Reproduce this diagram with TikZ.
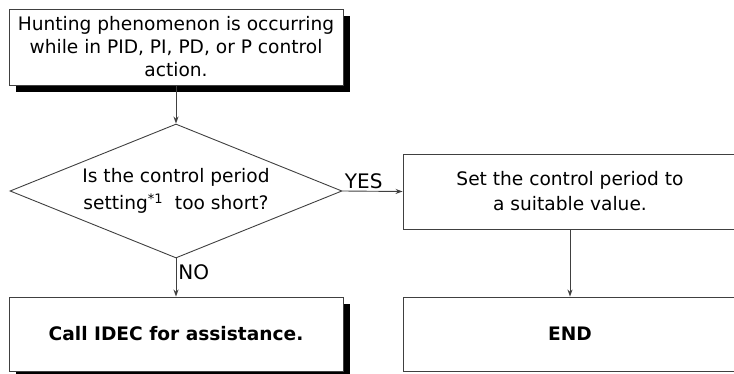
\documentclass[tikz,border=0pt]{standalone}
\usepackage{fontspec}
\setmainfont{DejaVu Sans}
\usetikzlibrary{shapes.geometric, arrows.meta, shadows}
\tikzset{box/.style={draw=black!75, line width=0.9pt, fill=white, minimum width=334pt,
        minimum height=75pt, inner sep=0pt, align=center,
        font=\fontsize{18.6}{23}\selectfont},
    shadowed box/.style={box, drop shadow={shadow xshift=7pt, shadow yshift=-7pt,
        fill=black, opacity=1}},
    bold text/.style={font=\fontsize{18.6}{23}\selectfont\bfseries},
    decision/.style={diamond, draw=black!75, line width=0.9pt, aspect=2.5,
        minimum width=332pt, minimum height=134pt, inner sep=0pt, align=center,
        font=\fontsize{18.6}{26.5}\selectfont},
    flow/.style={draw=black!75, line width=0.9pt, -{Stealth[length=7pt,width=5pt]}},
    answer/.style={font=\fontsize{20}{24}\selectfont, inner sep=2pt}}

\begin{document}
\begin{tikzpicture}[x=1pt, y=-1pt]
    \useasboundingbox (0,0) rectangle (734,374);
    \clip (0,0) rectangle (734,374);

    % Boxes and decision
    \node[shadowed box, minimum height=76pt] (hunting) at (176,47)
        {Hunting phenomenon is occurring\\while in PID, PI, PD, or P control\\action.};
    \node[decision] (tooshort) at (176,191)
        {Is the control period\\setting\textsuperscript{*1}\ \ too short?};
    \node[box, font=\fontsize{18.6}{25}\selectfont] (setperiod) at (570,191.5)
        {Set the control period to\\a suitable value.};
    \node[shadowed box, bold text, minimum height=74pt] (callidec) at (176,334)
        {Call IDEC for assistance.};
    \node[box, bold text, minimum height=74pt] (theend) at (570,334) {END};

    % Connectors
    \draw[flow] (hunting) -- (tooshort);
    \draw[flow] (tooshort.east) -- node[answer, pos=0, anchor=south west] {YES} (setperiod.west);
    \draw[flow] (tooshort.south) -- node[answer, pos=0.37, anchor=west] {NO} (callidec.north);
    \draw[flow] (setperiod) -- (theend);
\end{tikzpicture}
\end{document}
